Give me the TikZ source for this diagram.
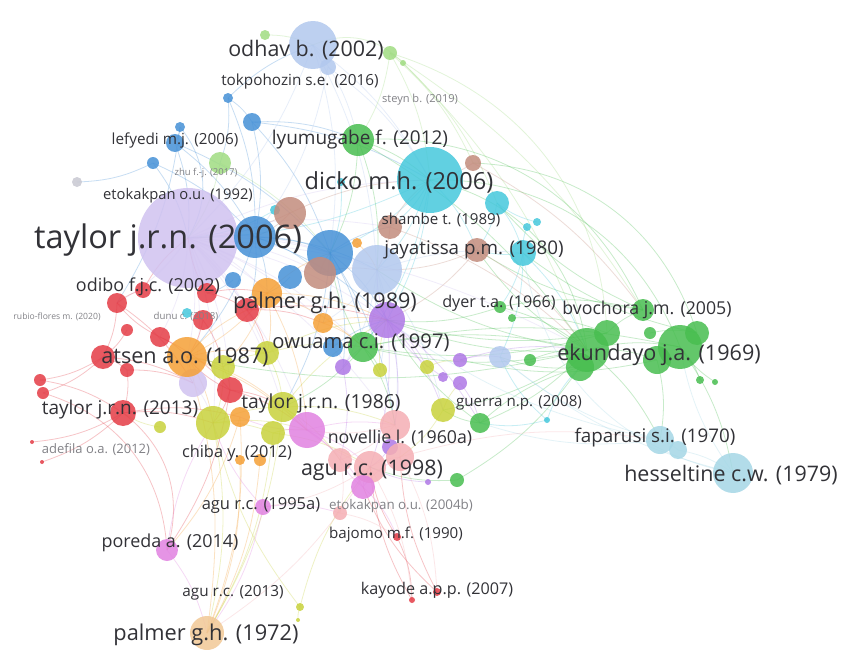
\documentclass[tikz,border=0pt]{standalone}
\usepackage{fontspec}
\setmainfont{Open Sans}
\usetikzlibrary{positioning}
\definecolor{pbl}{RGB}{178,200,238}
\definecolor{lgr}{RGB}{160,220,130}
\definecolor{grn}{RGB}{72,190,80}
\definecolor{blu}{RGB}{70,145,215}
\definecolor{cyn}{RGB}{70,200,220}
\definecolor{brn}{RGB}{195,140,125}
\definecolor{lav}{RGB}{208,194,240}
\definecolor{gry}{RGB}{200,200,210}
\definecolor{rdd}{RGB}{228,60,70}
\definecolor{org}{RGB}{245,160,55}
\definecolor{ylw}{RGB}{200,210,60}
\definecolor{pur}{RGB}{175,120,230}
\definecolor{mag}{RGB}{225,130,225}
\definecolor{sal}{RGB}{245,175,180}
\definecolor{lcy}{RGB}{165,215,230}
\definecolor{pch}{RGB}{242,200,150}
\definecolor{labtxt}{RGB}{50,50,55}
\definecolor{labfnt}{RGB}{130,130,135}

\begin{document}
\begin{tikzpicture}[
      x=0.02cm, y=-0.02cm,
      bub/.style={circle, inner sep=0pt, fill opacity=0.85},
      link/.style={line width=0.45pt, draw opacity=0.3},
      lbl/.style={inner sep=0pt, text=labtxt}
    ]
    \fill[white] (0,0) rectangle (841,649);
    \useasboundingbox (0,0) rectangle (841,649);

    \foreach \n/\x/\y/\r/\c in {
      ob1/313/45/24/pbl, ob2/328/67/8/pbl, pb3/377/270/25/pbl, pb4/500/357/11/pbl,
      lg1/265/35/5/lgr, lg2/390/53/7/lgr, lg3/403/63/3/lgr, lg4/220/163/11/lgr,
      gr1/358/140/16/grn, gr2/363/347/15/grn, gr3/500/307/6/grn, gr4/512/318/4/grn, gr5/530/360/6/grn,
      gr6/480/423/10/grn, gr7/457/480/7/grn,
      ek1/587/350/22/grn, ek2/607/333/13/grn, ek3/580/367/14/grn, ek4/643/310/11/grn,
      ek5/680/347/22/grn, ek6/697/333/12/grn, ek7/657/360/14/grn, ek8/650/333/6/grn,
      ek9/700/380/4/grn, ek10/715/382/3/grn,
      bl1/228/98/5/blu, bl2/252/122/9/blu, bl3/180/127/5/blu, bl4/175/143/9/blu, bl5/153/163/6/blu,
      cy1/430/180/33/cyn, cy2/497/203/12/cyn, cy3/523/253/13/cyn, cy4/527/227/4/cyn, cy5/537/222/4/cyn,
      cy6/275/210/5/cyn, cy7/341/182/4/cyn, cy8/187/313/5/cyn, cy9/547/420/3/cyn,
      lv1/188/238/50/lav, lv2/193/383/14/lav, gy1/77/182/5/gry,
      bl6/255/237/21/blu, bl7/330/253/23/blu, bl8/290/277/12/blu, bl9/233/280/8/blu, bl10/333/347/10/blu,
      br1/473/163/8/brn, br2/290/213/16/brn, br3/320/273/16/brn, br4/390/227/12/brn, br5/477/250/12/brn,
      rd1/117/303/10/rdd, rd2/143/290/8/rdd, rd3/207/293/10/rdd, rd4/203/320/10/rdd, rd5/247/310/12/rdd,
      rd6/160/337/10/rdd, rd7/127/330/6/rdd, rd8/103/357/12/rdd, rd9/230/390/13/rdd, rd10/40/380/6/rdd,
      rd11/43/393/6/rdd, rd12/127/370/7/rdd, rd13/123/413/13/rdd, rd14/32/442/2/rdd, rd15/42/462/2/rdd,
      rd16/397/537/4/rdd, rd17/412/600/3/rdd, rd18/437/592/4/rdd,
      or1/267/293/15/org, or2/187/357/20/org, or3/323/323/10/org, or4/357/243/5/org,
      or5/240/417/10/org, or6/260/460/6/org, or7/240/460/5/org,
      yl1/223/367/12/ylw, yl2/267/353/12/ylw, yl3/213/423/17/ylw, yl4/283/407/15/ylw, yl5/273/433/12/ylw,
      yl6/160/427/6/ylw, yl7/380/370/7/ylw, yl8/427/367/7/ylw, yl9/443/410/12/ylw, yl10/300/607/4/ylw,
      yl11/298/620/2/ylw,
      pu1/387/320/18/pur, pu2/343/367/8/pur, pu3/460/360/7/pur, pu4/460/383/7/pur, pu5/443/377/5/pur,
      pu6/428/482/3/pur, pu7/390/447/8/pur,
      sa1/370/467/16/sal, sa2/340/460/12/sal, sa3/400/457/14/sal, sa4/340/513/7/sal, sa5/395/425/15/sal,
      mg1/307/430/18/mag, mg2/363/487/12/mag, mg3/263/507/8/mag, mg4/167/550/11/mag,
      lc1/660/440/14/lcy, lc2/678/450/9/lcy, lc3/733/473/20/lcy, pe1/207/633/17/pch}
      \coordinate (\n) at (\x,\y);

    \foreach \a/\b/\c in {
      bl1/bl2/blu, bl1/bl6/blu, bl1/ob1/blu, bl2/bl6/blu, bl2/bl7/blu, bl2/cy1/blu, bl3/bl4/blu,
      bl4/bl6/blu, bl4/lv1/blu, bl5/lv1/blu, bl5/bl6/blu, bl4/bl7/blu, bl2/gr1/blu, bl1/lg4/blu,
      bl3/rd1/blu, bl5/gy1/blu, bl6/bl7/blu, bl8/or1/blu, bl9/rd3/blu, bl10/pu1/blu, bl7/pu1/blu,
      ob1/bl7/pbl, ob1/cy1/pbl, ob1/pb3/pbl, ob1/gr1/pbl, ob2/cy1/pbl, ob2/bl6/pbl, ob1/lv1/pbl,
      lg2/gr1/lgr, lg2/cy1/lgr, lg2/ek4/lgr, lg1/ob1/lgr, lg4/lv1/lgr, lg4/bl7/lgr, lg3/ek1/lgr,
      lg2/br1/lgr, lg3/cy2/lgr,
      gr1/cy1/grn, gr1/pb3/grn, gr1/bl7/grn, gr1/ek1/grn, gr2/ek1/grn, gr2/ek5/grn,
      gr2/pu1/grn, gr2/bl7/grn, gr3/ek1/grn, gr3/ek4/grn, gr3/pu1/grn, gr4/ek2/grn, gr5/ek1/grn,
      ek1/ek5/grn, ek1/ek7/grn, ek2/ek4/grn, ek5/ek9/grn, ek5/lc3/grn, ek1/lc1/grn, ek7/lc1/grn,
      ek6/cy3/grn, ek1/pb3/grn, ek1/pu1/grn, ek1/or2/grn, ek1/gr6/grn, ek3/gr7/grn, gr6/ek3/grn,
      gr6/yl9/grn, gr7/sa1/grn, gr6/pu1/grn, ek1/br5/grn, ek4/cy2/grn, ek8/ek6/grn, ek10/ek5/grn,
      ek3/pb4/grn, ek2/gr2/grn, ek7/pu3/grn, ek1/yl9/grn, ek1/gr2/grn, ek4/br5/grn, ek2/pu1/grn,
      cy1/bl7/cyn, cy1/pb3/cyn, cy1/br4/cyn, cy2/cy3/cyn, cy3/ek1/cyn, cy3/br5/cyn,
      cy1/lv1/cyn, cy3/cy4/cyn, cy9/ek3/cyn, cy9/pb4/cyn, cy6/lv1/cyn, cy7/bl7/cyn, cy5/cy2/cyn,
      cy8/rd4/cyn, cy9/gr6/cyn, cy1/gr2/cyn, cy1/br5/cyn, cy1/pu1/cyn, cy2/br5/cyn, cy3/pb4/cyn,
      cy3/gr3/cyn,
      br1/cy1/brn, br1/ek4/brn, br2/bl6/brn, br2/lv1/brn, br3/bl7/brn, br3/pb3/brn, br4/cy1/brn,
      br5/pb3/brn, br5/ek1/brn, br4/ek1/brn, br2/cy1/brn, br4/pb3/brn, br5/pu1/brn,
      lv1/rd5/lav, lv1/or1/lav, lv1/or2/lav, lv1/bl6/lav, lv1/rd1/lav, lv1/yl3/lav, lv1/pb3/lav,
      lv2/or2/lav, lv2/yl3/lav, lv1/ek1/lav, lv1/pu1/lav, lv1/mg1/lav, lv1/bl7/lav, lv1/br3/lav,
      lv1/or3/lav, lv1/gr2/lav, lv1/yl2/lav, lv1/rd9/lav, lv1/cy1/lav, lv1/br4/lav, lv1/sa5/lav,
      lv1/yl4/lav, lv1/lv2/lav, lv1/rd6/lav,
      bl6/or1/blu, bl6/br3/blu, bl6/pb3/blu, bl6/rd5/blu, bl6/or2/blu, bl6/pu1/blu, bl7/gr2/blu,
      bl7/or3/blu, bl7/br4/blu, bl7/pu2/blu, bl7/yl4/blu, bl7/sa5/blu,
      pb3/gr2/pbl, pb3/pu2/pbl, pb3/yl7/pbl, pb3/or3/pbl, pb3/sa5/pbl, pb3/cy3/pbl, pb3/yl9/pbl,
      rd1/rd2/rdd, rd1/rd8/rdd, rd2/lv1/rdd, rd3/rd5/rdd, rd4/or2/rdd, rd5/or1/rdd, rd6/or2/rdd,
      rd7/rd8/rdd, rd8/rd12/rdd, rd8/rd10/rdd, rd8/rd11/rdd, rd9/yl3/rdd, rd9/or2/rdd, rd12/rd13/rdd,
      rd13/rd14/rdd, rd13/rd15/rdd, rd13/yl3/rdd, rd10/rd13/rdd, rd9/mg4/rdd, rd16/sa1/rdd,
      rd17/sa1/rdd, rd18/sa3/rdd, rd16/rd17/rdd, rd13/or5/rdd, rd5/pu1/rdd, rd3/lv1/rdd, rd6/rd1/rdd,
      rd8/lv2/rdd, rd18/mg2/rdd, rd5/or3/rdd, rd5/yl2/rdd, rd3/or1/rdd, rd4/yl1/rdd, rd9/yl4/rdd,
      rd9/mg1/rdd, rd6/rd9/rdd, rd12/lv2/rdd, rd1/lv2/rdd,
      or1/bl7/org, or1/pu1/org, or2/yl3/org, or2/yl1/org, or3/pu1/org, or3/gr2/org, or5/pe1/org,
      or6/pe1/org, or7/pe1/org, or2/pe1/org, or5/mg4/org, or4/pb3/org, or1/yl2/org, or1/or2/org,
      or1/yl1/org, or1/gr2/org, or1/mg1/org, or2/rd5/org, or2/yl2/org, or2/mg1/org, or2/yl4/org,
      yl3/yl4/ylw, yl4/mg1/ylw, yl4/pu1/ylw, yl5/mg1/ylw, yl1/yl2/ylw, yl9/pu4/ylw,
      yl10/sa1/ylw, yl10/yl3/ylw, yl11/yl10/ylw, yl4/pe1/ylw, yl5/pe1/ylw, yl8/pu3/ylw, yl6/rd13/ylw,
      yl3/pe1/ylw, yl7/pu1/ylw, yl2/gr2/ylw, yl9/sa3/ylw, yl2/pu1/ylw, yl2/yl4/ylw, yl1/yl3/ylw,
      yl1/rd9/ylw, yl3/yl5/ylw, yl3/mg1/ylw, yl4/sa2/ylw, yl4/sa5/ylw, yl5/sa1/ylw,
      gr2/yl4/grn, gr2/sa5/grn, gr2/yl7/grn,
      pu1/pb3/pur, pu1/sa5/pur, pu3/ek1/pur, pu4/gr6/pur, pu2/gr2/pur, pu7/sa1/pur,
      pu6/sa1/pur, pu5/pu1/pur, pu3/pb4/pur, pu1/yl9/pur, pu1/sa1/pur, pu1/yl8/pur, pu1/gr6/pur,
      pu2/sa2/pur,
      mg1/sa2/mag, mg1/sa1/mag, mg2/sa1/mag, mg3/yl3/mag, mg3/pe1/mag, mg4/pe1/mag, mg2/rd16/mag,
      mg4/yl3/mag, mg3/sa4/mag, mg1/mg2/mag, mg1/sa5/mag, mg1/or5/mag, mg2/sa3/mag, mg2/sa2/mag,
      sa1/sa3/sal, sa1/rd17/sal, sa3/rd18/sal, sa1/yl4/sal, sa3/lc1/sal, sa1/pe1/sal, sa5/sa3/sal,
      sa5/sa2/sal, sa5/mg1/sal, sa2/sa4/sal, sa4/rd16/sal, sa1/mg3/sal,
      lc1/lc2/lcy, lc2/lc3/lcy, lc1/pb4/lcy, lc1/pu1/lcy, lc1/gr6/lcy, lc3/ek5/lcy, lc3/pb4/lcy}
      \draw[link, draw=\c] (\a) to[bend left=12] (\b);

    \foreach \a/\b/\c in {cy1/ek5/grn, gr1/ek4/grn, br1/ek6/grn, lc3/cy3/lcy, rd13/mg4/rdd,
      rd11/mg4/rdd, lg2/ek2/lgr, ob1/lg3/lgr, bl3/lv1/blu, cy1/ek1/grn}
      \draw[link, draw=\c] (\a) to[bend left=35] (\b);

    \foreach \n/\x/\y/\r/\c in {
      ob1/313/45/24/pbl, ob2/328/67/8/pbl, pb3/377/270/25/pbl, pb4/500/357/11/pbl,
      lg1/265/35/5/lgr, lg2/390/53/7/lgr, lg3/403/63/3/lgr, lg4/220/163/11/lgr,
      gr1/358/140/16/grn, gr2/363/347/15/grn, gr3/500/307/6/grn, gr4/512/318/4/grn, gr5/530/360/6/grn,
      gr6/480/423/10/grn, gr7/457/480/7/grn,
      ek1/587/350/22/grn, ek2/607/333/13/grn, ek3/580/367/14/grn, ek4/643/310/11/grn,
      ek5/680/347/22/grn, ek6/697/333/12/grn, ek7/657/360/14/grn, ek8/650/333/6/grn,
      ek9/700/380/4/grn, ek10/715/382/3/grn,
      bl1/228/98/5/blu, bl2/252/122/9/blu, bl3/180/127/5/blu, bl4/175/143/9/blu, bl5/153/163/6/blu,
      cy1/430/180/33/cyn, cy2/497/203/12/cyn, cy3/523/253/13/cyn, cy4/527/227/4/cyn, cy5/537/222/4/cyn,
      cy6/275/210/5/cyn, cy7/341/182/4/cyn, cy8/187/313/5/cyn, cy9/547/420/3/cyn,
      lv1/188/238/50/lav, lv2/193/383/14/lav, gy1/77/182/5/gry,
      bl6/255/237/21/blu, bl7/330/253/23/blu, bl8/290/277/12/blu, bl9/233/280/8/blu, bl10/333/347/10/blu,
      br1/473/163/8/brn, br2/290/213/16/brn, br3/320/273/16/brn, br4/390/227/12/brn, br5/477/250/12/brn,
      rd1/117/303/10/rdd, rd2/143/290/8/rdd, rd3/207/293/10/rdd, rd4/203/320/10/rdd, rd5/247/310/12/rdd,
      rd6/160/337/10/rdd, rd7/127/330/6/rdd, rd8/103/357/12/rdd, rd9/230/390/13/rdd, rd10/40/380/6/rdd,
      rd11/43/393/6/rdd, rd12/127/370/7/rdd, rd13/123/413/13/rdd, rd14/32/442/2/rdd, rd15/42/462/2/rdd,
      rd16/397/537/4/rdd, rd17/412/600/3/rdd, rd18/437/592/4/rdd,
      or1/267/293/15/org, or2/187/357/20/org, or3/323/323/10/org, or4/357/243/5/org,
      or5/240/417/10/org, or6/260/460/6/org, or7/240/460/5/org,
      yl1/223/367/12/ylw, yl2/267/353/12/ylw, yl3/213/423/17/ylw, yl4/283/407/15/ylw, yl5/273/433/12/ylw,
      yl6/160/427/6/ylw, yl7/380/370/7/ylw, yl8/427/367/7/ylw, yl9/443/410/12/ylw, yl10/300/607/4/ylw,
      yl11/298/620/2/ylw,
      pu1/387/320/18/pur, pu2/343/367/8/pur, pu3/460/360/7/pur, pu4/460/383/7/pur, pu5/443/377/5/pur,
      pu6/428/482/3/pur, pu7/390/447/8/pur,
      sa1/370/467/16/sal, sa2/340/460/12/sal, sa3/400/457/14/sal, sa4/340/513/7/sal, sa5/395/425/15/sal,
      mg1/307/430/18/mag, mg2/363/487/12/mag, mg3/263/507/8/mag, mg4/167/550/11/mag,
      lc1/660/440/14/lcy, lc2/678/450/9/lcy, lc3/733/473/20/lcy, pe1/207/633/17/pch}
      \node[bub, fill=\c, minimum size=\r*0.04cm] (n\n) at (\n) {};

    \foreach \n/\x/\y/\s/\t/\k in {
      odhav/306/50/12.2/odhav b. (2002)/labtxt,
      tokpo/300/82/8.7/tokpohozin s.e. (2016)/labtxt,
      steyn/420/100/6.3/steyn b. (2019)/labfnt,
      lefyedi/175/140/8.7/lefyedi m.j. (2006)/labtxt,
      lyumu/360/140/10.8/lyumugabe f. (2012)/labtxt,
      zhu/206/173/5.4/zhu f.-j. (2017)/labfnt,
      dicko/399/182/13.4/dicko m.h. (2006)/labtxt,
      etok92/178/196/8.4/etokakpan o.u. (1992)/labtxt,
      tay06/168/240/18.5/taylor j.r.n. (2006)/labtxt,
      shambe/441/220/8.6/shambe t. (1989)/labtxt,
      jaya/474/250/10.7/jayatissa p.m. (1980)/labtxt,
      odibo/148/287/10.2/odibo f.j.c. (2002)/labtxt,
      pal89/325/303/12.3/palmer g.h. (1989)/labtxt,
      rubio/57/317/4.9/rubio-flores m. (2020)/labfnt,
      dunu/186/317/5.5/dunu c. (2018)/labfnt,
      dyer/499/303/9.2/dyer t.a. (1966)/labtxt,
      bvoch/647/310/10.1/bvochora j.m. (2005)/labtxt,
      owuama/361/343/11.5/owuama c.i. (1997)/labtxt,
      atsen/185/357/12.3/atsen a.o. (1987)/labtxt,
      ekun/659/355/12.3/ekundayo j.a. (1969)/labtxt,
      tay13/120/410/10.8/taylor j.r.n. (2013)/labtxt,
      tay86/321/403/11/taylor j.r.n. (1986)/labtxt,
      guerra/519/403/8.6/guerra n.p. (2008)/labtxt,
      novel/400/438/10.1/novellie l. (1960a)/labtxt,
      fapar/655/438/10.7/faparusi s.i. (1970)/labtxt,
      adef/96/450/7.4/adefila o.a. (2012)/labfnt,
      chiba/237/453/9.3/chiba y. (2012)/labtxt,
      agu98/372/470/12.2/agu r.c. (1998)/labtxt,
      hessel/731/475/12.2/hesseltine c.w. (1979)/labtxt,
      agu95/261/505/9.4/agu r.c. (1995a)/labtxt,
      etok04/401/506/7.6/etokakpan o.u. (2004b)/labfnt,
      bajomo/396/535/8.6/bajomo m.f. (1990)/labtxt,
      poreda/170/543/10.2/poreda a. (2014)/labtxt,
      agu13/233/593/8.7/agu r.c. (2013)/labtxt,
      kayode/437/590/9.2/kayode a.p.p. (2007)/labtxt,
      pal72/206/635/12.4/palmer g.h. (1972)/labtxt}
      \node[lbl, text=\k, font=\fontsize{\s}{\s}\selectfont] (lb\n) at (\x,\y) {\t};
  \end{tikzpicture}
\end{document}
